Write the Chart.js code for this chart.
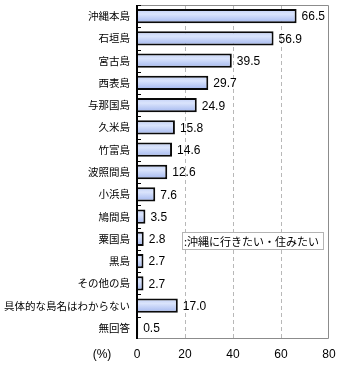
<!DOCTYPE html>
<html>
<head>
<meta charset="utf-8">
<script src="https://cdn.jsdelivr.net/npm/chart.js@4"></script>
<style>
  html, body { margin: 0; padding: 0; background: #fff; }
  #wrap { width: 340px; height: 372px; position: relative; }
</style>
</head>
<body>
<div id="wrap"><canvas id="islands"></canvas></div>
<script>
const islands = ['沖縄本島', '石垣島', '宮古島', '西表島', '与那国島', '久米島', '竹富島', '波照間島',
    '小浜島', '鳩間島', '粟国島', '黒島', 'その他の島', '具体的な島名はわからない', '無回答'];
const wantToGo = [66.5, 56.9, 39.5, 29.7, 24.9, 15.8, 14.6, 12.6, 7.6, 3.5, 2.8, 2.7, 2.7, 17.0, 0.5];
const xTicks = [0, 20, 40, 60, 80];
const seriesName = ':沖縄に行きたい・住みたい';

const jpFont = '"Noto Sans CJK JP", "Noto Sans", sans-serif';
const numFont = '"Liberation Sans", Arial, sans-serif';

// value labels, frame, tiny category ticks, legend box and the (%) note
const decorations = {
    id: 'decorations',
    afterDatasetsDraw(chart) {
        const ctx = chart.ctx;
        const area = chart.chartArea;
        const y = chart.scales.y;
        ctx.save();

        // gray frame top/right/bottom
        ctx.strokeStyle = '#8c8c8c';
        ctx.lineWidth = 1;
        ctx.beginPath();
        ctx.moveTo(area.left, area.top + 0.5);
        ctx.lineTo(area.right - 0.5, area.top + 0.5);
        ctx.lineTo(area.right - 0.5, area.bottom - 0.5);
        ctx.lineTo(area.left, area.bottom - 0.5);
        ctx.stroke();

        // black left axis with short inward ticks at band edges
        ctx.strokeStyle = '#000';
        ctx.lineWidth = 2;
        ctx.beginPath();
        ctx.moveTo(area.left, area.top);
        ctx.lineTo(area.left, area.bottom);
        ctx.stroke();
        const band = (y.getPixelForValue(1) - y.getPixelForValue(0));
        ctx.lineWidth = 1;
        ctx.beginPath();
        for (let i = 0; i < islands.length; i++) {
            const edge = Math.round(y.getPixelForValue(i) - band / 2) + 0.5;
            ctx.moveTo(area.left, edge);
            ctx.lineTo(area.left + 4, edge);
        }
        ctx.stroke();

        // value labels
        ctx.fillStyle = '#000';
        ctx.font = '12px ' + numFont;
        ctx.textBaseline = 'middle';
        ctx.textAlign = 'left';
        chart.getDatasetMeta(0).data.forEach((bar, i) => {
            ctx.fillText(wantToGo[i].toFixed(1), bar.x + 5, bar.y + 1);
        });

        // legend box (no swatch)
        const lx = 182, ly = 232, lw = 141, lh = 17;
        ctx.fillStyle = '#fff';
        ctx.fillRect(lx, ly, lw, lh);
        ctx.strokeStyle = '#b4b4b4';
        ctx.strokeRect(lx + 0.5, ly + 0.5, lw, lh);
        ctx.fillStyle = '#000';
        ctx.font = '11px ' + jpFont;
        ctx.fillText(seriesName, lx + 2, ly + lh / 2 + 1);

        // unit note
        ctx.font = '12px ' + numFont;
        ctx.textAlign = 'center';
        ctx.fillText('(%)', 102, 355);
        ctx.restore();
    }
};

function barGradient(context) {
    const chart = context.chart;
    const y = chart.scales.y;
    const fallback = '#c4d2f6';
    if (!y || context.dataIndex === undefined) return fallback;
    const mid = y.getPixelForValue(context.dataIndex);
    if (!isFinite(mid)) return fallback;
    const g = chart.ctx.createLinearGradient(0, mid - 7, 0, mid + 7);
    g.addColorStop(0, '#c2d0f6');
    g.addColorStop(0.35, '#dae4fc');
    g.addColorStop(1, '#a2b6ee');
    return g;
}

new Chart(document.getElementById('islands'), {
    type: 'bar',
    data: {
        labels: islands,
        datasets: [{
            label: seriesName,
            data: wantToGo,
            backgroundColor: barGradient,
            borderColor: '#0a0a0a',
            borderWidth: 2,
            borderSkipped: 'left',
            barPercentage: 0.64,
            categoryPercentage: 1
        }]
    },
    plugins: [decorations],
    options: {
        indexAxis: 'y',
        responsive: true,
        maintainAspectRatio: false,
        animation: false,
        layout: { padding: { top: 5, right: 11, left: 0, bottom: 0 } },
        plugins: {
            legend: { display: false },
            tooltip: { enabled: false }
        },
        scales: {
            x: {
                min: 0,
                max: 80,
                afterBuildTicks: s => { s.ticks = xTicks.map(v => ({ value: v })); },
                afterFit: s => { s.height = 33; s.paddingLeft = 0; s.paddingRight = 0; },
                border: { display: false, dash: [4, 3] },
                grid: {
                    color: c => (c.tick && (c.tick.value === 0 || c.tick.value === 80)) ? 'rgba(0,0,0,0)' : '#b8b8b8',
                    drawTicks: false
                },
                ticks: {
                    color: '#000',
                    padding: 8,
                    font: { family: numFont, size: 12 }
                }
            },
            y: {
                afterFit: s => { s.width = 137; s.paddingTop = 0; s.paddingBottom = 0; },
                border: { display: false },
                grid: { display: false, drawTicks: false, tickLength: 0 },
                ticks: {
                    color: '#000',
                    padding: 7,
                    autoSkip: false,
                    font: { family: jpFont, size: 10.5 }
                }
            }
        }
    }
});
</script>
</body>
</html>
